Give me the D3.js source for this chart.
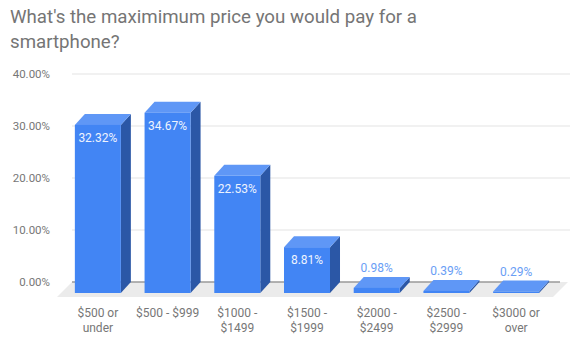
<!DOCTYPE html>
<html>
<head>
<meta charset="utf-8">
<script src="https://cdn.jsdelivr.net/npm/d3@7"></script>
<style>
  body { margin: 0; background: #fff; }
  svg { font-family: Roboto, "Noto Sans", sans-serif; }
</style>
</head>
<body>
<div id="chart"></div>
<script>
// data
const categories = [["$500 or", "under"], ["$500 - $999"], ["$1000 -", "$1499"], ["$1500 -", "$1999"],
                    ["$2000 -", "$2499"], ["$2500 -", "$2999"], ["$3000 or", "over"]];
const values = [32.32, 34.67, 22.53, 8.81, 0.98, 0.39, 0.29];
const yTicks = [0, 10, 20, 30, 40];

const width = 575, height = 344;
const dx = 10, dy = 11;      // depth of a bar (back face -> front face)
const floorDepth = 15;

const svg = d3.select("#chart").append("svg")
  .attr("width", width)
  .attr("height", height);

// title
svg.append("text").attr("x", 10).attr("y", 23)
  .attr("font-size", "18.7px").attr("fill", "#757575")
  .text("What's the maximimum price you would pay for a");
svg.append("text").attr("x", 10).attr("y", 48)
  .attr("font-size", "18.7px").attr("fill", "#757575")
  .text("smartphone?");

// scales are on the back wall
const x = d3.scaleBand()
  .domain(d3.range(values.length))
  .range([73, 561])
  .paddingInner(0.34)
  .paddingOuter(0.17);

const y = d3.scaleLinear().domain([0, 40]).range([282, 74]);

// gridlines + tick labels
svg.append("g").selectAll("line")
  .data(yTicks.filter(d => d > 0))
  .join("line")
    .attr("x1", 72).attr("x2", 570)
    .attr("y1", d => y(d)).attr("y2", d => y(d))
    .attr("stroke", "#e3e3e3").attr("stroke-width", 1.2);

svg.append("g").selectAll("text")
  .data(yTicks)
  .join("text")
    .attr("x", 50)
    .attr("y", d => y(d))
    .attr("dy", "0.35em")
    .attr("text-anchor", "end")
    .attr("font-size", "11.5px")
    .attr("fill", "#777")
    .text(d => d.toFixed(2) + "%");

// floor
const x0 = 72, x1 = 568;
svg.append("path")
  .attr("d", `M${x0},${y(0)} L${x1},${y(0)} L${x1 - floorDepth},${y(0) + floorDepth} L${x0 - floorDepth},${y(0) + floorDepth} Z`)
  .attr("fill", "#ebebeb");
svg.append("line")
  .attr("x1", x0).attr("x2", x1 - 8)
  .attr("y1", y(0)).attr("y2", y(0))
  .attr("stroke", "#9a9a9a").attr("stroke-width", 1.3);

// bars
const bars = svg.append("g").selectAll("g")
  .data(values)
  .join("g");

const bw = x.bandwidth();

// side face
bars.append("path")
  .attr("d", (d, i) => {
    const xr = x(i) + bw - dx;
    return `M${xr},${y(d) + dy} L${xr + dx},${y(d)} L${xr + dx},${y(0)} L${xr},${y(0) + dy} Z`;
  })
  .attr("fill", "#2b57a6");

// top face
bars.append("path")
  .attr("d", (d, i) => {
    const xl = x(i);
    return `M${xl},${y(d)} L${xl + bw},${y(d)} L${xl + bw - dx},${y(d) + dy} L${xl - dx},${y(d) + dy} Z`;
  })
  .attr("fill", "#5f97f6");

// front face
bars.append("rect")
  .attr("x", (d, i) => x(i) - dx)
  .attr("y", d => y(d) + dy)
  .attr("width", bw)
  .attr("height", d => y(0) - y(d))
  .attr("fill", "#4285f4");

// value labels
bars.append("text")
  .attr("x", (d, i) => x(i) - dx + bw / 2)
  .attr("y", d => d > 5 ? y(d) + dy + 13 : y(d) - 9)
  .attr("dy", "0.35em")
  .attr("text-anchor", "middle")
  .attr("font-size", "12px")
  .attr("fill", d => d > 5 ? "#eef3fe" : "#6a9ef5")
  .text(d => d.toFixed(2) + "%");

// category labels
const cat = svg.append("g").selectAll("text")
  .data(categories)
  .join("text")
    .attr("x", (d, i) => x(i) - dx + bw / 2)
    .attr("y", 317)
    .attr("text-anchor", "middle")
    .attr("font-size", "12px")
    .attr("fill", "#777");

cat.selectAll("tspan")
  .data((d, i) => d.map(s => ({ s, i })))
  .join("tspan")
    .attr("x", d => x(d.i) - dx + bw / 2)
    .attr("dy", (d, j) => j === 0 ? 0 : 15)
    .text(d => d.s);
</script>
</body>
</html>
